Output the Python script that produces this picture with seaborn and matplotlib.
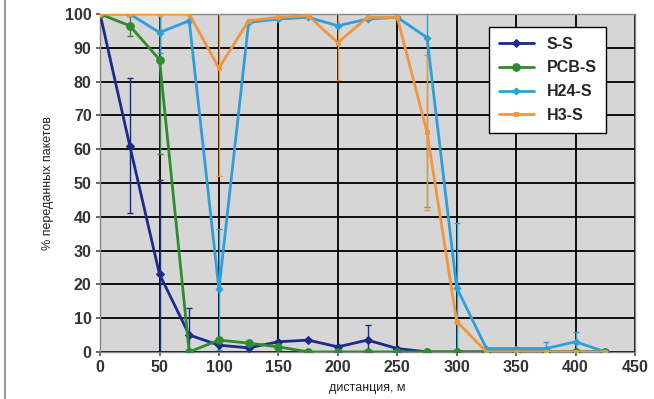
import pandas as pd
import seaborn as sns
import matplotlib.pyplot as plt
import numpy as np

# distances (m)
distance = [0, 25, 50, 75, 100, 125, 150, 175, 200, 225, 250, 275, 300, 325, 350, 375, 400, 425]

# % of delivered packets per link type
ss = [100, 61, 23, 5, 2, 1.2, 3, 3.5, 1.5, 3.5, 1, 0, 0, 0, 0, 0, 0, 0]
pcb = [100, 96.5, 86.5, 0, 3.5, 2.6, 1.5, 0, 0, 0, 0, 0, 0, 0, 0, 0, 0, 0]
h24 = [100, 100, 94.5, 98, 18.5, 97.5, 98.5, 99, 96.5, 98.5, 99, 93, 19, 1, 1, 1, 3, 0]
h3 = [100, 100, 100, 100, 84, 98, 99, 99.5, 91.5, 99, 99, 65, 9, 0, 0, 0, 0, 0]

# error bar half-widths
ss_err = [0, 20, 28, 8, 0, 0, 0, 0, 0, 4.5, 0, 0, 0, 0, 0, 0, 0, 0]
pcb_err = [0, 3, 28, 0, 0, 0, 0, 0, 0, 0, 0, 0, 0, 0, 0, 0, 0, 0]
h24_err = [0, 0, 6, 0, 18, 0, 0, 0, 0, 0, 0, 50, 19, 0, 0, 2, 3, 0]
h3_err = [0, 0, 0, 0, 32, 0, 0, 0, 11, 0, 0, 23, 0, 0, 0, 0, 0, 0]

names = ['S-S', 'PCB-S', 'H24-S', 'H3-S']
colors = ['#1c2a8c', '#2e8b2e', '#2f9fd8', '#f0963c']
markers = ['D', 'o', 'D', 's']
sizes = [4, 5.5, 3.5, 2.5]

series = {'S-S': (ss, ss_err), 'PCB-S': (pcb, pcb_err),
          'H24-S': (h24, h24_err), 'H3-S': (h3, h3_err)}

df = pd.concat([pd.DataFrame({'dist': distance, 'pct': v, 'err': e, 'link': k})
                for k, (v, e) in series.items()], ignore_index=True)

sns.set_theme(style='white')
plt.rcParams['font.family'] = ['Liberation Sans', 'DejaVu Sans']

fig = plt.figure(figsize=(6.54, 3.99), dpi=100)
ax = fig.add_axes([0.153, 0.118, 0.818, 0.847])
ax.set_facecolor('#d6d6d6')

# error bars first so lines sit on top
for name, col in zip(names, colors):
    d = df[df['link'] == name]
    ax.errorbar(d['dist'], d['pct'], yerr=d['err'], fmt='none', ecolor=col,
                elinewidth=1.0, capsize=2.5, capthick=1.0, zorder=3)

for name, col, m, s in zip(names, colors, markers, sizes):
    d = df[df['link'] == name]
    sns.lineplot(data=d, x='dist', y='pct', ax=ax, color=col, marker=m,
                 markersize=s, markeredgecolor=col, linewidth=2.0,
                 label=name, zorder=4)

ax.set_xlim(0, 450)
ax.set_ylim(0, 100)
ax.set_xticks(np.arange(0, 451, 50))
ax.set_yticks(np.arange(0, 101, 10))
ax.grid(True, color='black', linewidth=1.3, zorder=0)
ax.set_axisbelow(True)
for sp in ax.spines.values():
    sp.set_color('#888888')
    sp.set_linewidth(1.0)
ax.tick_params(axis='both', labelsize=11.5, length=3, color='#555555',
               bottom=True, left=True, pad=3)
for lab in ax.get_xticklabels() + ax.get_yticklabels():
    lab.set_fontweight('semibold')
    lab.set_color('#333333')

ax.set_xlabel('дистанция, м', fontsize=9, labelpad=5, color='#222222')
ax.set_ylabel('% переданных пакетов', fontsize=9, labelpad=8, color='#222222')

leg = ax.legend(loc='upper left', bbox_to_anchor=(0.712, 0.985), frameon=True,
                fancybox=False, edgecolor='black', facecolor='white',
                framealpha=1, handlelength=2.2,
                borderpad=0.6, labelspacing=0.55,
                prop={'weight': 'semibold', 'size': 11.5})
leg.get_frame().set_linewidth(1.0)
leg.set_zorder(10)

# left frame line of the original scan
fig.add_artist(plt.Line2D([0.008, 0.008], [0, 1], color='#999999', linewidth=1.5))

fig.savefig('out.png', dpi=100)
